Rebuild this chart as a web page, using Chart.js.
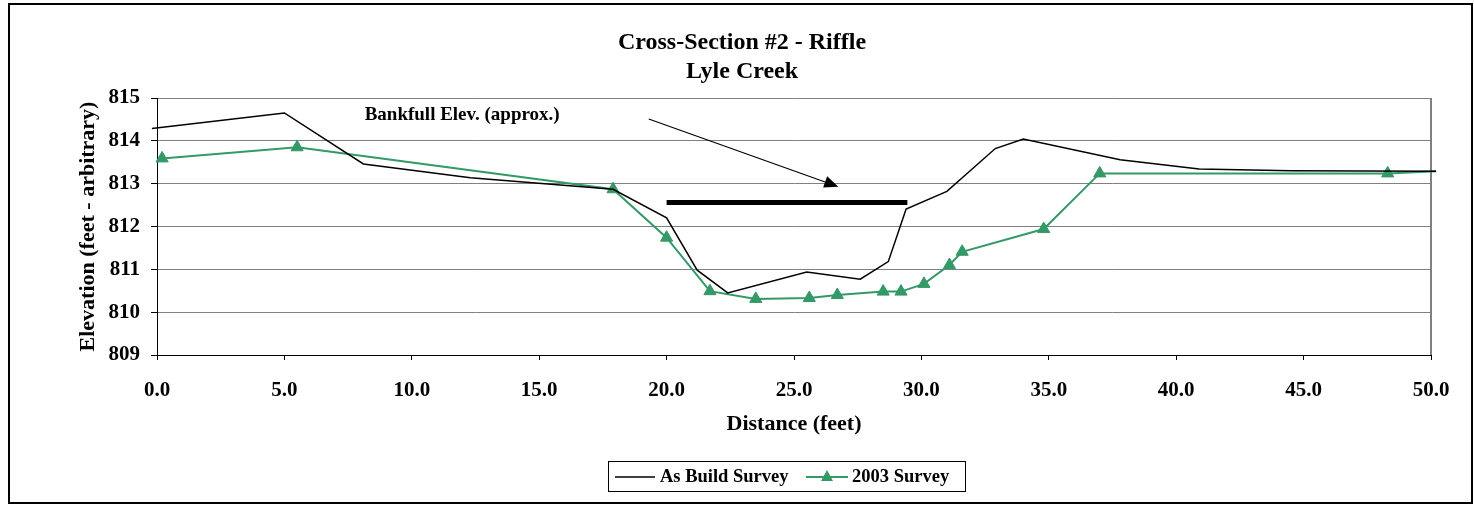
<!DOCTYPE html>
<html>
<head>
<meta charset="utf-8">
<script src="https://cdn.jsdelivr.net/npm/chart.js@4.4.0/dist/chart.umd.min.js"></script>
<style>
  html, body { margin: 0; padding: 0; background: #fff; }
  canvas { display: block; }
</style>
</head>
<body>
<canvas id="xs-chart" width="1474" height="505"></canvas>
<script>
// chart data
const titleLines = ['Cross-Section #2 - Riffle', 'Lyle Creek'];

const asBuiltDist = [-0.2, 5.0, 8.1, 12.3, 17.9, 20.0, 21.2, 22.4, 25.5, 27.6, 28.7, 29.4, 31.0, 32.9, 34.0, 37.8, 40.9, 44.5, 50.2];
const asBuiltElev = [814.29, 814.65, 813.46, 813.14, 812.87, 812.20, 810.98, 810.45, 810.94, 810.77, 811.18, 812.41, 812.82, 813.82, 814.04, 813.56, 813.34, 813.30, 813.29];

const survey2003Dist = [0.2, 5.5, 17.9, 20.0, 21.7, 23.5, 25.6, 26.7, 28.5, 29.2, 30.1, 31.1, 31.6, 34.8, 37.0, 48.3, 50.2];
const survey2003Elev = [813.59, 813.85, 812.87, 811.74, 810.49, 810.31, 810.33, 810.40, 810.48, 810.48, 810.66, 811.10, 811.41, 811.94, 813.24, 813.24, 813.29];

const bankfullDist = [20.0, 29.45];
const bankfullElev = [812.56, 812.56];

const noteText = 'Bankfull Elev. (approx.)';
const notePos = [8.15, 814.6];
const arrowFrom = [19.3, 814.51];
const arrowTo = [26.74, 812.93];

const xTicks = { min: 0, max: 50, step: 5 };
const yTicks = { min: 809, max: 815, step: 1 };

const serif = '"Liberation Serif", "Times New Roman", serif';
const green = '#339966';

function pts(xs, ys) {
  return xs.map((v, i) => ({ x: v, y: ys[i] }));
}

const extras = {
  id: 'extras',
  beforeDraw(chart) {
    const ctx = chart.ctx;
    ctx.save();
    ctx.fillStyle = '#fff';
    ctx.fillRect(0, 0, chart.width, chart.height);
    ctx.restore();
  },
  beforeDatasetsDraw(chart) {
    const { ctx, chartArea: a } = chart;
    ctx.save();
    ctx.strokeStyle = '#808080';
    ctx.lineWidth = 2;
    ctx.beginPath();
    ctx.moveTo(a.right, a.top);
    ctx.lineTo(a.right, a.bottom);
    ctx.stroke();
    ctx.restore();
  },
  afterDraw(chart) {
    const { ctx, scales: { x, y } } = chart;
    ctx.save();

    // outer frame
    ctx.strokeStyle = '#000';
    ctx.lineWidth = 2;
    ctx.strokeRect(9, 4, 1463, 499);

    // title
    ctx.fillStyle = '#000';
    ctx.font = 'bold 24px ' + serif;
    ctx.textAlign = 'center';
    ctx.textBaseline = 'middle';
    titleLines.forEach((t, i) => ctx.fillText(t, 742, 43 + i * 29));

    // bankfull note + arrow
    ctx.font = 'bold 19px ' + serif;
    ctx.textAlign = 'left';
    ctx.fillText(noteText, x.getPixelForValue(notePos[0]), y.getPixelForValue(notePos[1]));

    const x0 = x.getPixelForValue(arrowFrom[0]), y0 = y.getPixelForValue(arrowFrom[1]);
    const x1 = x.getPixelForValue(arrowTo[0]), y1 = y.getPixelForValue(arrowTo[1]);
    const ang = Math.atan2(y1 - y0, x1 - x0);
    const headLen = 14, headW = 6;
    const bx = x1 - headLen * Math.cos(ang), by = y1 - headLen * Math.sin(ang);
    ctx.lineWidth = 1.2;
    ctx.beginPath();
    ctx.moveTo(x0, y0);
    ctx.lineTo(bx, by);
    ctx.stroke();
    ctx.beginPath();
    ctx.moveTo(x1, y1);
    ctx.lineTo(bx + headW * Math.sin(ang), by - headW * Math.cos(ang));
    ctx.lineTo(bx - headW * Math.sin(ang), by + headW * Math.cos(ang));
    ctx.closePath();
    ctx.fill();

    // legend
    const ds = chart.data.datasets;
    ctx.lineWidth = 1;
    ctx.strokeRect(608.5, 461.5, 357, 30);
    const ly = 477;
    ctx.font = 'bold 18.5px ' + serif;
    ctx.strokeStyle = '#000';
    ctx.lineWidth = 1.5;
    ctx.beginPath(); ctx.moveTo(615, ly); ctx.lineTo(655, ly); ctx.stroke();
    ctx.fillText(ds[0].label, 660, ly);
    ctx.strokeStyle = green;
    ctx.lineWidth = 2;
    ctx.beginPath(); ctx.moveTo(806, ly); ctx.lineTo(848, ly); ctx.stroke();
    ctx.fillStyle = green;
    ctx.beginPath();
    ctx.moveTo(827, ly - 7);
    ctx.lineTo(833, ly + 4);
    ctx.lineTo(821, ly + 4);
    ctx.closePath();
    ctx.fill();
    ctx.fillStyle = '#000';
    ctx.fillText(ds[1].label, 852, ly);

    ctx.restore();
  }
};

new Chart(document.getElementById('xs-chart'), {
  type: 'scatter',
  data: {
    datasets: [
      {
        label: 'As Build Survey',
        data: pts(asBuiltDist, asBuiltElev),
        showLine: true,
        borderColor: '#000',
        borderWidth: 1.5,
        pointRadius: 0,
        clip: 8
      },
      {
        label: '2003 Survey',
        data: pts(survey2003Dist, survey2003Elev),
        showLine: true,
        borderColor: green,
        backgroundColor: green,
        borderWidth: 2,
        pointStyle: 'triangle',
        pointRadius: survey2003Dist.map((d, i) => i === survey2003Dist.length - 1 ? 0 : 7),
        pointBorderWidth: 1,
        clip: 8
      },
      {
        label: 'Bankfull',
        data: pts(bankfullDist, bankfullElev),
        showLine: true,
        borderColor: '#000',
        borderWidth: 5,
        pointRadius: 0
      }
    ]
  },
  options: {
    responsive: false,
    animation: false,
    devicePixelRatio: 1,
    layout: { padding: { left: 70, right: 43, top: 98, bottom: 0 } },
    plugins: {
      legend: { display: false },
      tooltip: { enabled: false },
      title: { display: false }
    },
    scales: {
      x: {
        type: 'linear',
        min: xTicks.min,
        max: xTicks.max,
        ticks: {
          stepSize: xTicks.step,
          callback: v => v.toFixed(1),
          color: '#000',
          font: { family: serif, size: 21, weight: 'bold' },
          padding: 18,
          maxRotation: 0
        },
        grid: { drawOnChartArea: false, tickLength: 5, tickColor: '#000' },
        border: { color: '#000', width: 1 },
        title: {
          display: true,
          text: 'Distance (feet)',
          color: '#000',
          font: { family: serif, size: 22, weight: 'bold' },
          padding: { top: 0, bottom: 67 }
        },
        afterFit: s => { s.height = 150; }
      },
      y: {
        min: yTicks.min,
        max: yTicks.max,
        ticks: {
          stepSize: yTicks.step,
          color: '#000',
          font: { family: serif, size: 21, weight: 'bold' },
          padding: 11
        },
        grid: { color: '#808080', lineWidth: 1, tickLength: 6, tickColor: '#000' },
        border: { color: '#000', width: 1 },
        title: {
          display: true,
          text: 'Elevation (feet - arbitrary)',
          color: '#000',
          font: { family: serif, size: 22, weight: 'bold' },
          padding: { top: 5, bottom: 0 }
        },
        afterFit: s => { s.width = 87; }
      }
    }
  },
  plugins: [extras]
});
</script>
</body>
</html>
